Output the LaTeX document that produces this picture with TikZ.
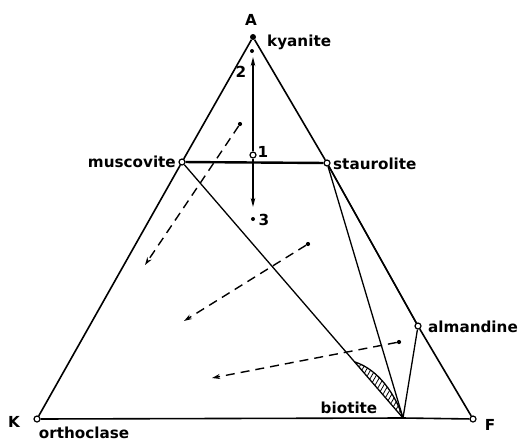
\documentclass[tikz,border=0pt]{standalone}
\usepackage{fontspec}
\setmainfont{DejaVu Sans}
\usetikzlibrary{arrows.meta,patterns.meta}
\begin{document}
\begin{tikzpicture}[x=1pt,y=-1pt,
  lbl/.style={font=\fontsize{15.2}{17}\selectfont\bfseries, inner sep=0pt},
  opendot/.style={circle,draw,line width=1.2pt,fill=white,minimum size=6pt,inner sep=0pt},
  soliddot/.style={circle,fill,minimum size=4.2pt,inner sep=0pt},
  edgeline/.style={line width=1.6pt},
  tieline/.style={line width=1.3pt},
  darr/.style={line width=1.4pt,dash pattern=on 9pt off 6pt,-{Stealth[length=8pt,width=5pt]}},
  sarr/.style={line width=1.8pt,-{Stealth[length=9pt,width=4.5pt]}}]
\useasboundingbox (0,0) rectangle (524,442);
% points
\node[soliddot,minimum size=6pt] (A) at (253,37) {};
\node[opendot] (K) at (37,419) {};
\node[opendot] (F) at (473,419) {};
\node[opendot] (mus) at (182,162) {};
\node[opendot] (stau) at (327,163) {};
\node[opendot] (alm) at (418,326) {};
\node[opendot] (p1) at (253,155) {};
\node[soliddot,minimum size=4pt] (p2) at (252,51) {};
\node[soliddot,minimum size=4pt] (p3) at (253,219) {};
\node[soliddot] (d1) at (240,124) {};
\node[soliddot] (d2) at (308,244) {};
\node[soliddot] (d3) at (399,342) {};
\coordinate (bio) at (403,418);
\coordinate (t2up) at (253,57);
\coordinate (t3dn) at (253,207);
\coordinate (t1) at (145,265);
\coordinate (t2) at (184,321);
\coordinate (t3) at (212,378);
\coordinate (lensA) at (355,362);
% triangle
\draw[edgeline] (A) -- (mus) -- (K);
\draw[edgeline] (A) -- (stau) -- (alm) -- (F);
\draw[edgeline] (K) -- (bio) -- (F);
% tie lines
\draw[line width=2.4pt] (mus) -- (stau);
\draw[tieline] (mus) -- (bio);
\draw[tieline] (stau) -- (bio);
\draw[tieline] (stau) -- (alm);
\draw[tieline] (alm) -- (bio);
% biotite lens
\fill[pattern={Lines[angle=60,distance=3.8pt,line width=0.8pt]}] (lensA) .. controls (379,370) and (395.4,394.6) .. (bio) -- cycle;
\draw[tieline] (lensA) .. controls (379,370) and (395.4,394.6) .. (bio);
% vertical arrows
\draw[sarr] (p1) -- (t2up);
\draw[sarr] (p1) -- (t3dn);
% dashed arrows
\draw[darr] (d1) -- (t1);
\draw[darr] (d2) -- (t2);
\draw[darr] (d3) -- (t3);
% labels
\node[lbl,anchor=base] (lA) at (251,25) {A};
\node[lbl,anchor=base west] (lky) at (267,46) {kyanite};
\node[lbl,anchor=base] (l2) at (241,77) {2};
\node[lbl,anchor=base] (l1) at (263,157) {1};
\node[lbl,anchor=base] (l3) at (264,225) {3};
\node[lbl,anchor=base east] (lmus) at (176,167) {muscovite};
\node[lbl,anchor=base west] (lst) at (333,169) {staurolite};
\node[lbl,anchor=base west] (lalm) at (428,332) {almandine};
\node[lbl,anchor=base] (lK) at (14,427) {K};
\node[lbl,anchor=base] (lor) at (84,438) {orthoclase};
\node[lbl,anchor=base] (lF) at (490,430) {F};
\node[lbl,anchor=base] (lbio) at (349,413) {biotite};
\end{tikzpicture}
\end{document}
